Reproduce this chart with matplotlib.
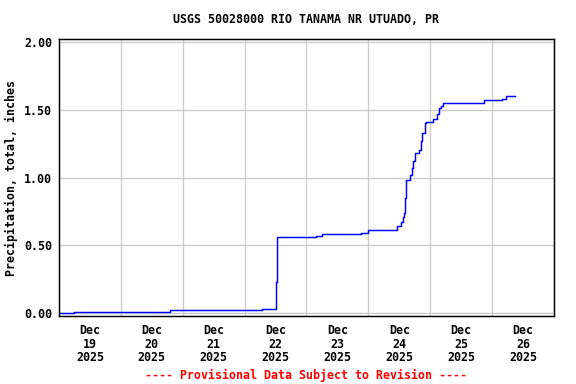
import matplotlib
matplotlib.use("Agg")
import matplotlib.pyplot as plt
import pandas as pd

# cumulative precipitation (step changes only)
times = [
    "2025-12-19 00:00", "2025-12-19 05:45", "2025-12-20 19:15", "2025-12-22 06:45",
    "2025-12-22 12:00", "2025-12-22 12:15", "2025-12-22 12:45", "2025-12-23 03:45",
    "2025-12-23 06:00", "2025-12-23 21:15", "2025-12-23 23:45", "2025-12-24 11:00",
    "2025-12-24 12:45", "2025-12-24 13:30", "2025-12-24 14:00", "2025-12-24 14:15",
    "2025-12-24 14:30", "2025-12-24 16:00", "2025-12-24 16:45", "2025-12-24 17:15",
    "2025-12-24 17:30", "2025-12-24 18:15", "2025-12-24 19:45", "2025-12-24 20:15",
    "2025-12-24 20:45", "2025-12-24 22:00", "2025-12-24 22:30", "2025-12-25 01:00",
    "2025-12-25 02:45", "2025-12-25 03:30", "2025-12-25 04:15", "2025-12-25 05:00",
    "2025-12-25 20:45", "2025-12-26 04:00", "2025-12-26 05:15", "2025-12-26 08:45",
]
precip = [
    0.00, 0.01, 0.02, 0.03,
    0.07, 0.23, 0.56, 0.57,
    0.58, 0.59, 0.61, 0.64,
    0.67, 0.71, 0.74, 0.85,
    0.98, 1.02, 1.07, 1.08,
    1.12, 1.18, 1.20, 1.27,
    1.33, 1.40, 1.41, 1.43,
    1.47, 1.51, 1.53, 1.55,
    1.57, 1.58, 1.60, 1.60,
]
days = pd.date_range("2025-12-19", "2025-12-26", freq="D")
yticks = [0.0, 0.5, 1.0, 1.5, 2.0]

font = {"family": "DejaVu Sans Mono", "weight": "bold", "size": 8.7}

fig = plt.figure(figsize=(6, 4), dpi=96)
ax = fig.add_axes([0.1024, 0.177, 0.8594, 0.7214])

t = pd.to_datetime(times)
ax.step(t, precip, where="post", color="#0000ff", lw=1.1)

ax.set_xlim(pd.Timestamp("2025-12-19"), pd.Timestamp("2025-12-27"))
ax.set_ylim(-0.022, 2.022)

noon = days + pd.Timedelta(hours=12)
ax.set_xticks(noon)
ax.set_xticklabels([d.strftime("%b\n%d\n%Y") for d in days], fontdict=font,
                   linespacing=1.05)
ax.set_xticks(days[1:].append(pd.DatetimeIndex([pd.Timestamp("2025-12-27")])),
              minor=True)
ax.set_yticks(yticks)
ax.set_yticklabels(["%.2f" % v for v in yticks], fontdict=font)
ax.tick_params(which="both", length=0)
ax.tick_params(axis="x", pad=6)
ax.tick_params(axis="y", pad=5)

ax.grid(True, which="minor", axis="x", color="#cccccc", lw=1)
ax.grid(True, which="major", axis="y", color="#cccccc", lw=1)
ax.set_axisbelow(True)
for s in ax.spines.values():
    s.set_linewidth(1.1)
    s.set_color("black")

ax.set_ylabel("Precipitation, total, inches", fontdict=font, labelpad=5)
fig.text(0.532, 0.95, "USGS 50028000 RIO TANAMA NR UTUADO, PR",
         ha="center", va="center", **font)
fig.text(0.532, 0.023, "---- Provisional Data Subject to Revision ----",
         ha="center", va="center", color="red", **font)

fig.savefig("out.png", dpi=96)
